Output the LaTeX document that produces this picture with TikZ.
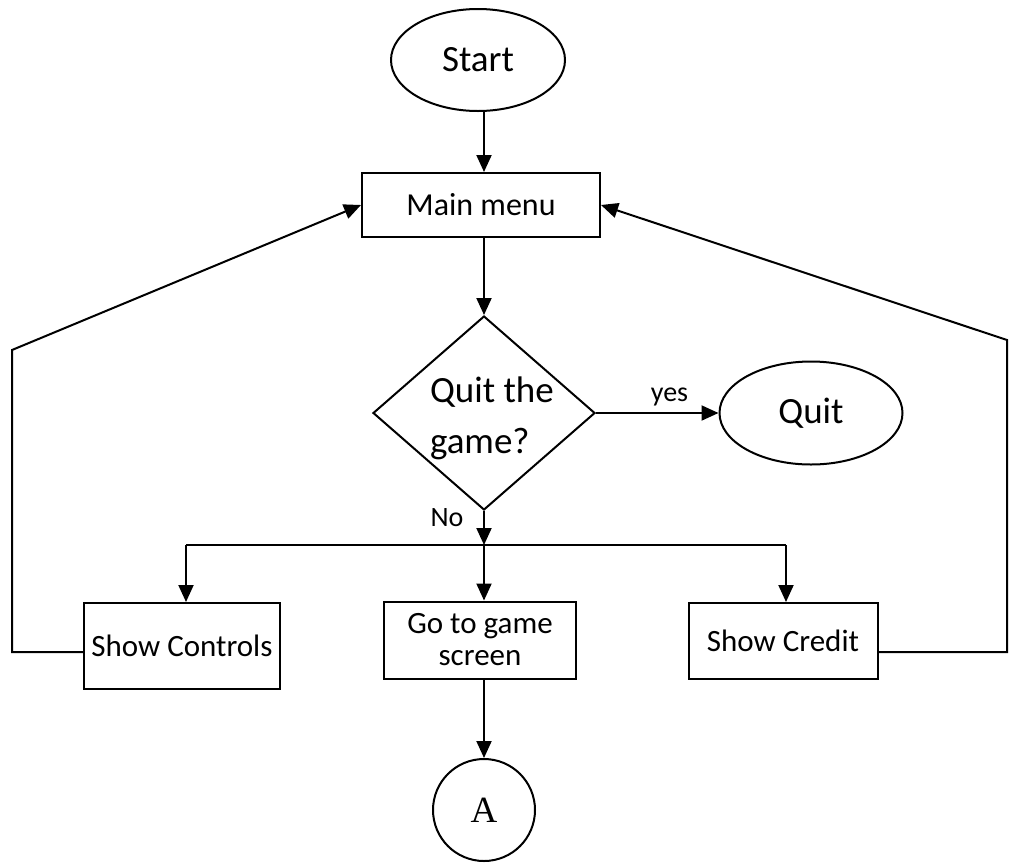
\documentclass[tikz,border=0pt]{standalone}
\usepackage{fontspec}
\setmainfont{Carlito}
\newfontfamily\serifA{Liberation Serif}
\usetikzlibrary{shapes.geometric,arrows.meta,calc}
\begin{document}
\begin{tikzpicture}[x=1pt,y=-1pt, line width=2pt,
  every node/.style={inner sep=0pt},
  flow/.style={-{Triangle[length=17pt,width=15pt]}},
  term/.style={draw, ellipse, font=\fontsize{37}{44}\selectfont},
  proc/.style={draw, rectangle, font=\fontsize{31}{32}\selectfont, align=center},
  dec/.style={draw, diamond},
  lbl/.style={font=\fontsize{28}{32}\selectfont}]

\useasboundingbox (0,0) rectangle (1009,863);

% terminals, processes and the decision
\node[term, minimum width=174pt, minimum height=102pt] (start) at (478,60) {Start};
\node[proc, minimum width=238pt, minimum height=64pt, font=\fontsize{32}{32}\selectfont] (main) at (481,205) {Main menu};
\node[dec, minimum width=222pt, minimum height=194pt] (dia) at (484,413) {};
\node[anchor=west, align=left, font=\fontsize{37}{51}\selectfont] (qtext) at (429,418) {Quit the\\game?};
\node[term, minimum width=183pt, minimum height=103pt] (quit) at (811,413) {Quit};
\node[proc, minimum width=196pt, minimum height=86pt] (ctrl) at (182,646) {Show Controls};
\node[proc, minimum width=192pt, minimum height=77pt] (game) at (480,640) {Go to game\\screen};
\node[proc, minimum width=189pt, minimum height=76pt] (credit) at (783,641) {Show Credit};
\node[draw, circle, minimum size=102pt, font=\serifA\fontsize{37}{37}\selectfont] (A) at (484,810) {A};

% branch points
\coordinate (split) at (484,545);
\coordinate (bl) at (186,545);
\coordinate (br) at (786,545);
\coordinate (lc) at (12,652);
\coordinate (lt) at (12,350);
\coordinate (rc) at (1007,652);
\coordinate (rt) at (1007,340);

% main flow
\draw[flow] (start.south -| dia.north) -- (main.north -| dia.north);
\draw[flow] (main.south -| dia.north) -- (dia.north);
\draw[flow] (dia.east) -- node[lbl, pos=0.6, above=6pt] (yes) {yes} (quit.west);
\draw[flow] (dia.south) -- (split);
\node[lbl] (no) at (447,518) {No};
\draw (bl) -- (br);
\draw[flow] (bl) -- (bl |- ctrl.north);
\draw[flow] (split) -- (split |- game.north);
\draw[flow] (br) -- (br |- credit.north);
\draw[flow] (game.south -| A.north) -- (A.north);

% return loops to the menu
\draw[flow] (ctrl.west |- lc) -- (lc) -- (lt) -- (main.west);
\draw[flow] (credit.east |- rc) -- (rc) -- (rt) -- (main.east);
\end{tikzpicture}
\end{document}
